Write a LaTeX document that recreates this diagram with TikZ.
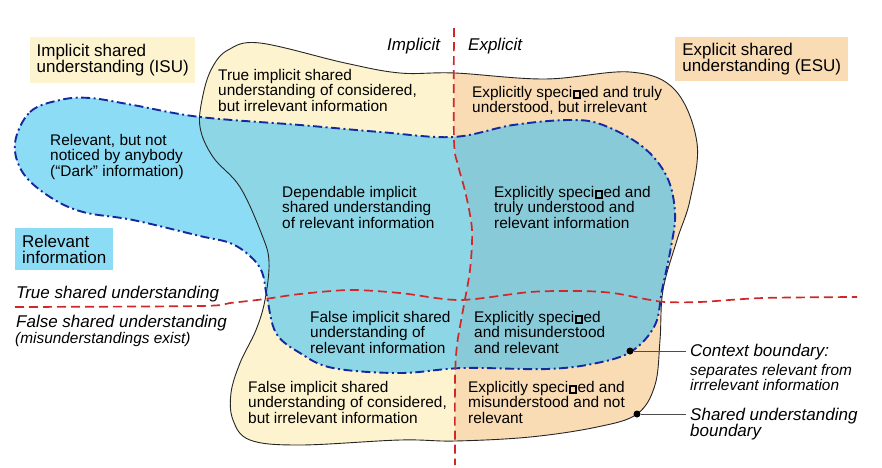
\documentclass[tikz,border=0pt]{standalone}
\usepackage{fontspec}
\setmainfont{Liberation Sans}
\usetikzlibrary{positioning}

\definecolor{isuyellow}{HTML}{FDF3CE}
\definecolor{esuorange}{HTML}{F9DBB4}
\definecolor{relblue}{HTML}{8CDCF5}
\definecolor{relisu}{HTML}{8CD6E6}
\definecolor{relesu}{HTML}{88CAD8}
\definecolor{ctxblue}{HTML}{1428A0}
\definecolor{splitred}{HTML}{D02828}

% the box that stands where the fi ligature went missing
\newcommand\nofi{\hspace{0.04em}\raisebox{0.02em}{\fboxsep=0pt\fboxrule=0.11em\fbox{\rule{0pt}{0.36em}\hspace{0.3em}}}\hspace{0.04em}}

\tikzset{
  areatext/.style={anchor=north west, align=left, inner sep=0pt, font=\fontsize{15.4}{15.5}\selectfont},
  labelbox/.style={anchor=north west, align=left, inner ysep=0pt, font=\fontsize{17}{16}\selectfont},
  tag/.style={anchor=base west, inner sep=0pt, font=\fontsize{17}{16}\selectfont\itshape},
  smalltag/.style={anchor=base west, inner sep=0pt, font=\fontsize{15.4}{15.5}\selectfont\itshape},
  subound/.style={draw=black!85, line width=0.9pt},
  ctxbound/.style={draw=ctxblue, line width=1.9pt, dash pattern=on 9pt off 3.5pt on 2pt off 3.5pt},
  splitline/.style={draw=splitred, line width=1.7pt, dash pattern=on 9pt off 5pt},
  dot/.style={circle, fill=black, inner sep=0pt, minimum size=7pt},
  leader/.style={draw=black!70, line width=0.8pt, shorten >=4pt},
}

\begin{document}
\begin{tikzpicture}[x=1pt, y=-1pt]
    \useasboundingbox[fill=white] (0,0) rectangle (882,467);

    % shared understanding boundary and context boundary
    \path[save path=\supath] plot[smooth cycle, tension=0.6] coordinates {
        (260,43) (345,63) (400,73) (455,73) (545,79) (630,72) (675,90) (697,143)
        (690,200) (677,240) (663,290) (660,340) (655,385) (637,414) (597,427)
        (530,437) (455,441) (400,440) (300,445) (250,440) (233,420) (231,393)
        (240,363) (256,330) (265,300) (269,262) (262,235) (240,187) (213,157)
        (200,127) (203,95) (212,68) (228,50)};
    \path[save path=\ctxpath] plot[smooth cycle, tension=0.6] coordinates {
        (15,143) (30,112) (60,100) (90,98) (133,105) (200,117) (300,125) (380,132)
        (453,137) (513,125) (570,120) (603,125) (643,147) (667,177) (675,213)
        (671,247) (662,290) (655,325) (632,351) (597,363) (547,369) (463,368)
        (400,373) (333,368) (300,353) (276,333) (267,297) (262,272) (250,256)
        (230,243) (200,236) (133,220) (83,212) (50,197) (23,173)};

    \fill[esuorange, use path=\supath];
    \fill[relblue, use path=\ctxpath];
    \begin{scope}
        \clip[use path=\supath];
        \fill[relesu, use path=\ctxpath];
    \end{scope}
    \begin{scope}
        \clip (0,0) -- (454,0) -- plot[smooth] coordinates {(454,28) (454,140) (458,165)
            (466,195) (472,230) (470,270) (463,310) (457,345) (455,380) (455,465)}
            -- (455,467) -- (0,467) -- cycle;
        \fill[isuyellow, use path=\supath];
        \clip[use path=\supath];
        \fill[relisu, use path=\ctxpath];
    \end{scope}

    \path[subound, use path=\supath];
    \path[ctxbound, use path=\ctxpath];

    % implicit / explicit and true / false split
    \draw[splitline] plot[smooth] coordinates {(454,28) (454,140) (458,165)
        (466,195) (472,230) (470,270) (463,310) (457,345) (455,380) (455,465)};
    \draw[splitline] plot[smooth] coordinates {(15,307) (200,306) (230,303) (265,299)
        (300,294) (350,290) (400,293) (460,300) (530,292) (580,291) (613,293)
        (645,299) (665,302) (700,302) (763,298) (857,297)};

    % legend boxes
    \node[labelbox, fill=isuyellow, minimum width=165pt, minimum height=46pt] (isubox) at (30,37)
        {Implicit shared\\understanding (ISU)};
    \node[labelbox, fill=esuorange, minimum width=173pt, minimum height=44pt] (esubox) at (675,37)
        {Explicit shared\\understanding (ESU)};
    \node[labelbox, fill=relblue, minimum width=98pt, minimum height=42pt] (relbox) at (15,228)
        {Relevant\\information};

    \node[tag] (implicitlbl) at (387,50) {Implicit};
    \node[tag] (explicitlbl) at (468,50) {Explicit};
    \node[tag] (truelbl) at (16,298) {True shared understanding};
    \node[tag] (falselbl) at (16,327) {False shared understanding};
    \node[smalltag] (mislbl) at (15,343) {(misunderstandings exist)};

    % the regions
    \node[areatext] (tisirr) at (218,69) {True implicit shared\\understanding of considered,\\but irrelevant information};
    \node[areatext] (esirr) at (472,86) {Explicitly speci\nofi{}ed and truly\\understood, but irrelevant};
    \node[areatext] (dark) at (50,134) {Relevant, but not\\noticed by anybody\\(“Dark” information)};
    \node[areatext] (deprel) at (282,186) {Dependable implicit\\shared understanding\\of relevant information};
    \node[areatext] (esrel) at (494,186) {Explicitly speci\nofi{}ed and\\truly understood and\\relevant information};
    \node[areatext] (fisrel) at (310,311) {False implicit shared\\understanding of\\relevant information};
    \node[areatext] (esmisrel) at (474,311) {Explicitly speci\nofi{}ed\\and misunderstood\\and relevant};
    \node[areatext] (fisirr) at (248,381) {False implicit shared\\understanding of considered,\\but irrelevant information};
    \node[areatext] (esmisirr) at (468,381) {Explicitly speci\nofi{}ed and\\misunderstood and not\\relevant};

    % boundary callouts
    \node[dot] (ctxdot) at (630,351) {};
    \node[dot] (sudot) at (637,414) {};
    \node[tag] (ctxhead) at (690,356) {Context boundary:};
    \node[areatext, font=\fontsize{15.4}{15.5}\selectfont\itshape, below=4pt of ctxhead.south west, anchor=north west] (ctxnote)
        {separates relevant from\\irrrelevant information};
    \node[areatext, font=\fontsize{17}{16}\selectfont\itshape] (suhead) at (690,408) {Shared understanding\\boundary};
    \draw[leader] (ctxdot) -- (ctxdot -| ctxhead.west);
    \draw[leader] (sudot) -- (sudot -| suhead.west);
\end{tikzpicture}
\end{document}
